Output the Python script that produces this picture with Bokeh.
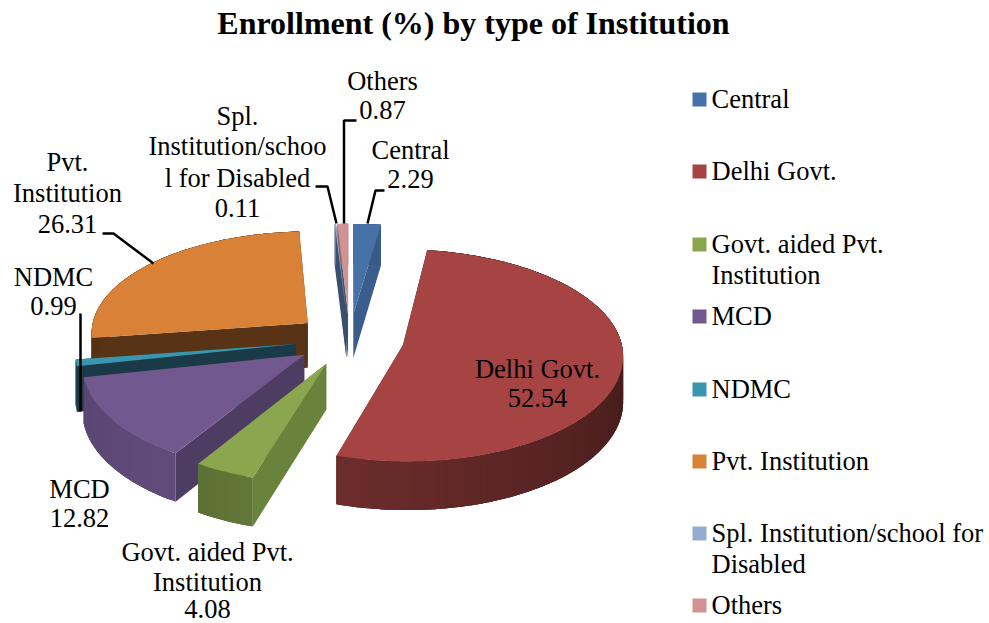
import math
from bokeh.plotting import figure
from bokeh.models import Range1d, ColumnDataSource
from bokeh.core.properties import value
from bokeh.embed import file_html
from bokeh.resources import INLINE

categories = ["Central", "Delhi Govt.", "Govt. aided Pvt. Institution", "MCD", "NDMC",
              "Pvt. Institution", "Spl. Institution/school for Disabled", "Others"]
values = [2.29, 52.54, 4.08, 12.82, 0.99, 26.31, 0.11, 0.87]

colors = ["#4672A8", "#A54443", "#8AA64E", "#71588F", "#3A96AF", "#D98136", "#95ABD1", "#D29291"]
radial_colors = ["#3A5E8C", "#431A18", "#6A833C", "#4E3D62", "#1B3A47", "#583316", "#3A4F6E", "#44566F"]
rim_shade = [(0.8, 0.8), (0.22, 0.66), (0.72, 0.68), (0.86, 0.8), (0.45, 0.45), (0.4, 0.4), (0.7, 0.7), (0.7, 0.7)]
draw_order = [5, 4, 3, 2, 7, 6, 0, 1]

CX, CY, RX, RY, PX, PY, EXPLODE, DEPTH = 349.0, 339.0, 218.0, 105.0, 0.085, 0.095, 0.25, 45.0

data_labels = [
    (["Central", "2.29"], 410, [149, 178]),
    (["Delhi Govt.", "52.54"], 537, [368, 397]),
    (["Govt. aided Pvt.", "Institution", "4.08"], 207, [551, 581, 608]),
    (["MCD", "12.82"], 79, [488, 517]),
    (["NDMC", "0.99"], 53, [276, 305]),
    (["Pvt.", "Institution", "26.31"], 67, [161, 192, 223]),
    (["Spl.", "Institution/schoo", "l for Disabled", "0.11"], 237, [115, 145, 177, 207]),
    (["Others", "0.87"], 382, [80, 109]),
]
leaders = [
    ([384, 375, 367], [190, 190, 223]),
    ([356, 343.5, 343.5], [120, 120, 223]),
    ([315, 327, 336], [186, 186, 223]),
    ([102, 113, 153], [233, 233, 263]),
    ([80, 80], [313, 411]),
]
legend_lines = [["Central"], ["Delhi Govt."], ["Govt. aided Pvt.", "Institution"], ["MCD"], ["NDMC"],
                ["Pvt. Institution"], ["Spl. Institution/school for", "Disabled"], ["Others"]]
legend_y = [99, 171, 244, 316, 389, 461, 533, 605]
TITLE = "Enrollment (%) by type of Institution"


def project(X, Y, lift=0.0):
    return (CX + RX * X * (1 + PX * Y),
            CY + RY * Y * (1 + PY * Y) + lift * DEPTH * (1 + 0.077 * Y))


def shade(hex_color, k):
    r, g, b = (int(hex_color[i:i + 2], 16) for i in (1, 3, 5))
    return "#%02x%02x%02x" % (int(r * k), int(g * k), int(b * k))


p = figure(width=989, height=623, output_backend="svg", toolbar_location=None,
           x_range=Range1d(0, 989), y_range=Range1d(623, 0), min_border=0)
p.axis.visible = False
p.grid.visible = False
p.outline_line_color = None

total = sum(values)
starts, cum = [], 0.0
for v in values:
    starts.append(cum)
    cum += v

xs, ys, fills = [], [], []


def add(points, color):
    xs.append([q[0] for q in points])
    ys.append([q[1] for q in points])
    fills.append(color)


for i in draw_order:
    a0 = starts[i] / total * 2 * math.pi
    a1 = (starts[i] + values[i]) / total * 2 * math.pi
    mid = (a0 + a1) / 2
    ax, ay = EXPLODE * math.sin(mid), -EXPLODE * math.cos(mid)
    n = max(2, int((a1 - a0) / 0.02))
    rim = []
    for k in range(n + 1):
        t = a0 + (a1 - a0) * k / n
        rim.append((ax + math.sin(t), ay - math.cos(t)))
    # radial walls
    for end in (rim[0], rim[-1]):
        add([project(ax, ay), project(*end), project(*end, 1), project(ax, ay, 1)], radial_colors[i])
    # rim wall: overlapping bands so no seams show
    for k in range(n):
        f = k / max(1, n - 1)
        s = rim_shade[i][0] + (rim_shade[i][1] - rim_shade[i][0]) * f
        band = rim[k:min(n, k + 3) + 1]
        add([project(*q) for q in band] + [project(*q, 1) for q in reversed(band)], shade(colors[i], s))
    # top face
    add([project(ax, ay)] + [project(*q) for q in rim], colors[i])

src = ColumnDataSource(dict(xs=xs, ys=ys, fill=fills))
p.patches("xs", "ys", source=src, fill_color="fill", line_color=None)

for lx, ly in leaders:
    p.line(lx, ly, line_color="black", line_width=2.5)

FONT = value("Liberation Serif")
tx, ty, tt = [], [], []
for lines, x, yy in data_labels:
    for t, y in zip(lines, yy):
        tx.append(x)
        ty.append(y)
        tt.append(t)
p.text(tx, ty, text=tt, text_font=FONT, text_font_size=value("26.5px"), text_color="black",
       text_align="center", text_baseline="middle")

p.text([473], [22], text=[TITLE], text_font=FONT, text_font_size=value("32px"), text_font_style="bold",
       text_color="black", text_align="center", text_baseline="middle")

p.rect([699] * 8, legend_y, width=14, height=14, fill_color=colors, line_color=None)
lx, ly, lt = [], [], []
for lines, y in zip(legend_lines, legend_y):
    for j, t in enumerate(lines):
        lx.append(711)
        ly.append(y - 1 + j * 31)
        lt.append(t)
p.text(lx, ly, text=lt, text_font=FONT, text_font_size=value("26.5px"), text_color="black",
       text_align="left", text_baseline="middle")

open("out.html", "w").write(file_html(p, INLINE))
